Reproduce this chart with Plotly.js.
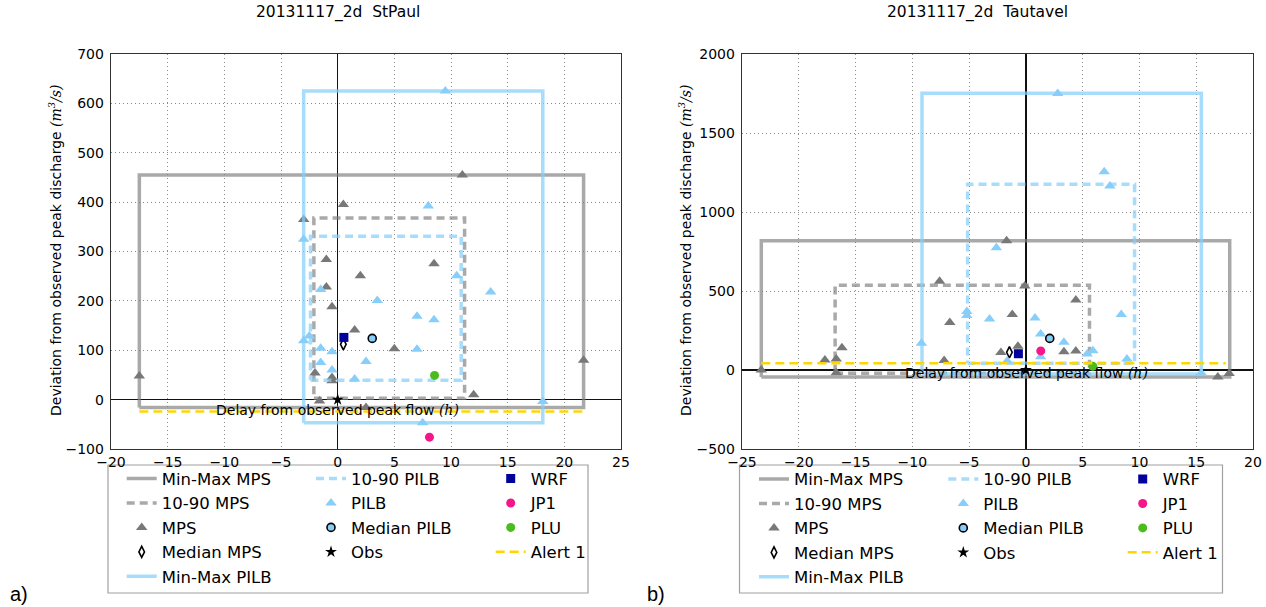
<!DOCTYPE html>
<html><head><meta charset="utf-8">
<script src="https://cdn.plot.ly/plotly-3.0.1.min.js"></script>
<style>html,body{margin:0;padding:0;background:#fff}#chart{width:1266px;height:607px}</style>
</head><body><div id="chart"></div>
<script>
// ---------- a) 20131117_2d StPaul ----------
const spMpsX  = [-17.5, 21.7, 11.0, 0.5, -3.0, -1.0, 8.5, 2.0, -1.0, -0.5, 1.5, 5.0, -2.0, -0.5, -0.5, 12.0, -1.6, 2.5];
const spMpsY  = [48, 80, 455, 395, 365, 284, 275, 251, 228, 188, 141, 103, 54, 45, 38, 10, -3, -16];
const spPilbX = [9.5, 8.0, -3.0, 10.5, -1.5, 13.5, 3.5, 7.0, 8.5, -2.5, -3.0, -1.5, -0.5, 7.0, -1.5, 2.5, -0.5, 1.5, 7.5, 18.1];
const spPilbY = [625, 392, 325, 251, 223, 218, 201, 169, 162, 129, 119, 104, 97, 102, 75, 77, 60, 42, -47, -4];
const spMinMaxMpsX  = [-17.5, 21.7], spMinMaxMpsY  = [-16, 455];
const sp1090MpsX    = [-2.1, 11.2],  sp1090MpsY    = [3, 368];
const spMinMaxPilbX = [-3.0, 18.1],  spMinMaxPilbY = [-47, 625];
const sp1090PilbX   = [-2.4, 10.9],  sp1090PilbY   = [39, 331];
const spMedianMps  = [0.5, 112];
const spMedianPilb = [3.05, 124];
const spObs = [0, 0];
const spWrf = [0.55, 126];
const spJp1 = [8.1, -76];
const spPlu = [8.55, 49];
const spAlertX = [-17.5, 21.7], spAlertY = -24;

// ---------- b) 20131117_2d Tautavel ----------
const taMpsX  = [-23.3, -17.7, -16.7, -16.2, -16.7, -7.6, -7.2, -6.7, -2.2, -1.7, -1.2, -0.7, -0.1, 3.35, 4.4, 4.4, 16.9, 17.9];
const taMpsY  = [0, 63, 70, 141, -17, 562, 60, 301, 110, 818, 352, 150, 532, 116, 120, 443, -44, -22];
const taPilbX = [2.8, 6.9, 7.4, -2.6, -5.2, -5.2, -3.2, 0.8, 8.4, -9.2, 1.3, 3.35, 1.3, -1.65, 5.4, 5.9, 8.9, 15.45];
const taPilbY = [1750, 1255, 1165, 773, 371, 345, 323, 329, 352, 169, 228, 176, 84, 57, 102, 122, 70, -20];
const taMinMaxMpsX  = [-23.3, 17.95], taMinMaxMpsY  = [-45, 818];
const ta1090MpsX    = [-16.8, 5.6],   ta1090MpsY    = [-21, 536];
const taMinMaxPilbX = [-9.15, 15.45], taMinMaxPilbY = [-26, 1751];
const ta1090PilbX   = [-5.13, 9.57],  ta1090PilbY   = [42, 1175];
const taMedianMps  = [-1.45, 112];
const taMedianPilb = [2.1, 200];
const taObs = [0, 0];
const taWrf = [-0.66, 103];
const taJp1 = [1.31, 121];
const taPlu = [5.9, 23];
const taAlertX = [-23.3, 17.6], taAlertY = 42;

const W = 1266, H = 607;
const FONT = 'DejaVu Sans';

const GRAY_LINE = 'rgba(128,128,128,0.68)';
const BLUE_LINE = 'rgba(135,206,250,0.72)';

function rect(xr, yr) {
  return {x: [xr[0], xr[1], xr[1], xr[0], xr[0]], y: [yr[0], yr[0], yr[1], yr[1], yr[0]]};
}

function buildTraces(d, xa, ya, lg) {
  const base = {xaxis: xa, yaxis: ya, hoverinfo: 'skip', showlegend: true};
  const t = [];
  const r1 = rect(d.minMaxMpsX, d.minMaxMpsY);
  t.push(Object.assign({}, base, {type: 'scatter', mode: 'lines', name: 'Min-Max MPS', x: r1.x, y: r1.y,
    line: {color: GRAY_LINE, width: 3.5}, legend: lg[0]}));
  const r2 = rect(d.m1090X, d.m1090Y);
  t.push(Object.assign({}, base, {type: 'scatter', mode: 'lines', name: '10-90 MPS', x: r2.x, y: r2.y,
    line: {color: GRAY_LINE, width: 3.5, dash: '8px,5px'}, legend: lg[0]}));
  t.push(Object.assign({}, base, {type: 'scatter', mode: 'markers', name: 'MPS', x: d.mpsX, y: d.mpsY,
    marker: {symbol: 'triangle-up', size: 10, color: '#787878'}, legend: lg[0]}));
  t.push(Object.assign({}, base, {type: 'scatter', mode: 'markers', name: 'Median MPS', x: [d.medMps[0]], y: [d.medMps[1]],
    marker: {symbol: 'diamond-tall', size: 8, color: '#ffffff', line: {color: '#000', width: 1.6}}, legend: lg[0]}));
  const r3 = rect(d.minMaxPilbX, d.minMaxPilbY);
  t.push(Object.assign({}, base, {type: 'scatter', mode: 'lines', name: 'Min-Max PILB', x: r3.x, y: r3.y,
    line: {color: BLUE_LINE, width: 3.5}, legend: lg[0]}));
  const r4 = rect(d.p1090X, d.p1090Y);
  t.push(Object.assign({}, base, {type: 'scatter', mode: 'lines', name: '10-90 PILB', x: r4.x, y: r4.y,
    line: {color: BLUE_LINE, width: 3.5, dash: '8px,5px'}, legend: lg[1]}));
  t.push(Object.assign({}, base, {type: 'scatter', mode: 'markers', name: 'PILB', x: d.pilbX, y: d.pilbY,
    marker: {symbol: 'triangle-up', size: 10, color: '#87cefa'}, legend: lg[1]}));
  t.push(Object.assign({}, base, {type: 'scatter', mode: 'markers', name: 'Median PILB', x: [d.medPilb[0]], y: [d.medPilb[1]],
    marker: {symbol: 'circle', size: 8, color: '#87cefa', line: {color: '#000', width: 1.6}}, legend: lg[1]}));
  t.push(Object.assign({}, base, {type: 'scatter', mode: 'markers', name: 'Obs', x: [d.obs[0]], y: [d.obs[1]],
    marker: {symbol: 'star', size: 9, color: '#000'}, legend: lg[1]}));
  t.push(Object.assign({}, base, {type: 'scatter', mode: 'markers', name: 'WRF', x: [d.wrf[0]], y: [d.wrf[1]],
    marker: {symbol: 'square', size: 9, color: '#00009c'}, legend: lg[2]}));
  t.push(Object.assign({}, base, {type: 'scatter', mode: 'markers', name: 'JP1', x: [d.jp1[0]], y: [d.jp1[1]],
    marker: {symbol: 'circle', size: 9, color: '#f5168a'}, legend: lg[2]}));
  t.push(Object.assign({}, base, {type: 'scatter', mode: 'markers', name: 'PLU', x: [d.plu[0]], y: [d.plu[1]],
    marker: {symbol: 'circle', size: 9, color: '#4cbb1e'}, legend: lg[2]}));
  t.push(Object.assign({}, base, {type: 'scatter', mode: 'lines', name: 'Alert 1', x: d.alertX, y: [d.alertY, d.alertY],
    line: {color: '#ffd700', width: 2.5, dash: '9px,5px'}, legend: lg[2]}));
  return t;
}

const sp = {minMaxMpsX: spMinMaxMpsX, minMaxMpsY: spMinMaxMpsY, m1090X: sp1090MpsX, m1090Y: sp1090MpsY,
  mpsX: spMpsX, mpsY: spMpsY, medMps: spMedianMps, minMaxPilbX: spMinMaxPilbX, minMaxPilbY: spMinMaxPilbY,
  p1090X: sp1090PilbX, p1090Y: sp1090PilbY, pilbX: spPilbX, pilbY: spPilbY, medPilb: spMedianPilb,
  obs: spObs, wrf: spWrf, jp1: spJp1, plu: spPlu, alertX: spAlertX, alertY: spAlertY};
const ta = {minMaxMpsX: taMinMaxMpsX, minMaxMpsY: taMinMaxMpsY, m1090X: ta1090MpsX, m1090Y: ta1090MpsY,
  mpsX: taMpsX, mpsY: taMpsY, medMps: taMedianMps, minMaxPilbX: taMinMaxPilbX, minMaxPilbY: taMinMaxPilbY,
  p1090X: ta1090PilbX, p1090Y: ta1090PilbY, pilbX: taPilbX, pilbY: taPilbY, medPilb: taMedianPilb,
  obs: taObs, wrf: taWrf, jp1: taJp1, plu: taPlu, alertX: taAlertX, alertY: taAlertY};

const traces = buildTraces(sp, 'x', 'y', ['legend', 'legend2', 'legend3'])
  .concat(buildTraces(ta, 'x2', 'y2', ['legend4', 'legend5', 'legend6']));

const tickFont = {family: FONT, size: 14, color: '#000'};
function axis(extra) {
  return Object.assign({
    showgrid: true, gridcolor: '#8a8a8a', griddash: '1px,3px', gridwidth: 1,
    zeroline: true, zerolinecolor: '#111', zerolinewidth: 1.3,
    showline: true, mirror: true, linecolor: '#333', linewidth: 1.3,
    ticks: '', tickfont: tickFont, fixedrange: true, ticklabelstandoff: 3
  }, extra);
}
const yDom = [158 / H, 553 / H];

function legendAt(textX, rowCenter) {
  return {x: (textX - 40) / W, xanchor: 'left', y: 1 - (rowCenter - 17.2) / H, yanchor: 'top',
    orientation: 'v', bgcolor: 'rgba(0,0,0,0)', borderwidth: 0,
    font: {family: FONT, size: 16.5, color: '#000'}, tracegroupgap: 0, traceorder: 'normal',
    itemclick: false, itemdoubleclick: false};
}

const mathSpan = s => "<span style=\"font-family:'DejaVu Serif'\"><i>" + s + "</i></span>";
const yLabel = 'Deviation from observed peak discharge ' + mathSpan('(m<sup>3</sup>/s)');
const xLabel = 'Delay from observed peak flow ' + mathSpan('(h)');

const annotations = [
  {text: '20131117_2d\u00a0 StPaul', x: 338 / W, y: 1 - 13 / H, xref: 'paper', yref: 'paper', showarrow: false,
    xanchor: 'center', yanchor: 'middle', font: {family: FONT, size: 15.5, color: '#000'}},
  {text: '20131117_2d\u00a0 Tautavel', x: 977 / W, y: 1 - 13 / H, xref: 'paper', yref: 'paper', showarrow: false,
    xanchor: 'center', yanchor: 'middle', font: {family: FONT, size: 15.5, color: '#000'}},
  {text: yLabel, x: 55 / W, y: 1 - 251 / H, xref: 'paper', yref: 'paper', showarrow: false, textangle: -90,
    xanchor: 'center', yanchor: 'middle', font: {family: FONT, size: 14, color: '#000'}},
  {text: yLabel, x: 685 / W, y: 1 - 251 / H, xref: 'paper', yref: 'paper', showarrow: false, textangle: -90,
    xanchor: 'center', yanchor: 'middle', font: {family: FONT, size: 14, color: '#000'}},
  {text: xLabel, x: 337 / W, y: 1 - 410 / H, xref: 'paper', yref: 'paper', showarrow: false,
    xanchor: 'center', yanchor: 'middle', font: {family: FONT, size: 14, color: '#000'}},
  {text: xLabel, x: 1026 / W, y: 1 - 373 / H, xref: 'paper', yref: 'paper', showarrow: false,
    xanchor: 'center', yanchor: 'middle', font: {family: FONT, size: 14, color: '#000'}},
  {text: 'a)', x: 8 / W, y: 1 - 594 / H, xref: 'paper', yref: 'paper', showarrow: false,
    xanchor: 'left', yanchor: 'middle', font: {family: 'Liberation Sans', size: 20, color: '#000'}},
  {text: 'b)', x: 645 / W, y: 1 - 594 / H, xref: 'paper', yref: 'paper', showarrow: false,
    xanchor: 'left', yanchor: 'middle', font: {family: 'Liberation Sans', size: 20, color: '#000'}}
];

const shapes = [
  {type: 'rect', xref: 'paper', yref: 'paper', x0: 108 / W, x1: 588 / W, y0: 1 - 593 / H, y1: 1 - 465 / H,
    line: {color: '#a0a0a0', width: 1.2}, fillcolor: 'rgba(0,0,0,0)', layer: 'below'},
  {type: 'rect', xref: 'paper', yref: 'paper', x0: 739.5 / W, x1: 1222.5 / W, y0: 1 - 593 / H, y1: 1 - 465 / H,
    line: {color: '#a0a0a0', width: 1.2}, fillcolor: 'rgba(0,0,0,0)', layer: 'below'}
];

const layout = {
  width: W, height: H, margin: {l: 0, r: 0, t: 0, b: 0},
  paper_bgcolor: '#fff', plot_bgcolor: '#fff',
  font: {family: FONT, color: '#000'},
  xaxis: axis({domain: [111 / W, 621 / W], range: [-20, 25], dtick: 5, tick0: 0, anchor: 'y', ticklabelstandoff: 0}),
  yaxis: axis({domain: yDom, range: [-100, 700], dtick: 100, tick0: 0, anchor: 'x'}),
  xaxis2: axis({domain: [742 / W, 1253 / W], range: [-25, 20], dtick: 5, tick0: 0, anchor: 'y2', ticklabelstandoff: 0}),
  yaxis2: axis({domain: yDom, range: [-500, 2000], dtick: 500, tick0: 0, anchor: 'x2'}),
  legend: legendAt(161.7, 478.5),
  legend2: legendAt(351, 478.5),
  legend3: legendAt(530.7, 478.5),
  legend4: legendAt(794, 479),
  legend5: legendAt(983.3, 479),
  legend6: legendAt(1162.7, 479),
  annotations: annotations,
  shapes: shapes
};

Plotly.newPlot('chart', traces, layout, {displayModeBar: false, staticPlot: true});
</script>
</body></html>
